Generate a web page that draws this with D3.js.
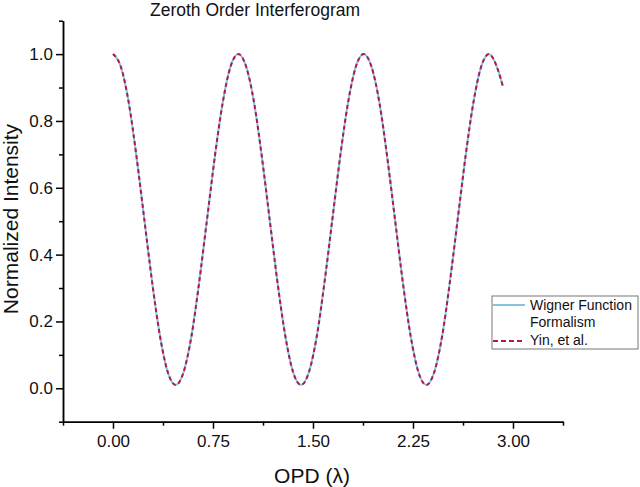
<!DOCTYPE html>
<html>
<head>
<meta charset="utf-8">
<script src="https://cdn.jsdelivr.net/npm/d3@7"></script>
<style>
  body { margin: 0; background: #fff; }
  text { font-family: "Liberation Sans", Arial, sans-serif; fill: #111; }
</style>
</head>
<body>
<svg id="chart" width="640" height="487"></svg>
<script>
// values
const opd = [0.000, 0.059, 0.118, 0.176, 0.235, 0.294, 0.353, 0.411, 0.470, 0.529,
             0.588, 0.646, 0.705, 0.764, 0.823, 0.881, 0.940, 0.999, 1.058, 1.116,
             1.175, 1.234, 1.293, 1.351, 1.410, 1.469, 1.528, 1.586, 1.645, 1.704,
             1.763, 1.821, 1.880, 1.939, 1.998, 2.056, 2.115, 2.174, 2.233, 2.291,
             2.350, 2.409, 2.468, 2.526, 2.585, 2.644, 2.703, 2.761, 2.820, 2.879, 2.923];
const wigner = [1.000, 0.962, 0.855, 0.694, 0.505, 0.316, 0.155, 0.048, 0.010, 0.048,
                0.155, 0.316, 0.505, 0.694, 0.855, 0.962, 1.000, 0.962, 0.855, 0.694,
                0.505, 0.316, 0.155, 0.048, 0.010, 0.048, 0.155, 0.316, 0.505, 0.694,
                0.855, 0.962, 1.000, 0.962, 0.855, 0.694, 0.505, 0.316, 0.155, 0.048,
                0.010, 0.048, 0.155, 0.316, 0.505, 0.694, 0.855, 0.962, 1.000, 0.962, 0.905];
const yin = wigner.slice(); // the two curves lie on top of each other

const xTicks = [0, 0.75, 1.5, 2.25, 3.0];
const yTicks = [0, 0.2, 0.4, 0.6, 0.8, 1.0];

const svg = d3.select("#chart");

const x = d3.scaleLinear().domain([-0.375, 3.375]).range([63, 563]);
const y = d3.scaleLinear().domain([-0.1, 1.1]).range([421.7, 20.7]);

// minor ticks
const xMinor = d3.range(-0.375, 3.376, 0.375).filter(v => !xTicks.some(t => Math.abs(t - v) < 1e-6));
const yMinor = d3.range(-0.1, 1.101, 0.2);

function styleAxis(g) {
    g.selectAll("path, line").attr("stroke", "#000").attr("stroke-width", 1.5);
    g.selectAll("text").style("font-size", "17px").attr("fill", "#111");
}

// x axis
svg.append("g")
    .attr("transform", `translate(0,${y(-0.1)})`)
    .call(d3.axisBottom(x).tickValues(xMinor).tickSize(4).tickFormat("").tickSizeOuter(0))
    .call(styleAxis);
svg.append("g")
    .attr("transform", `translate(0,${y(-0.1)})`)
    .call(d3.axisBottom(x).tickValues(xTicks).tickSize(7).tickPadding(6).tickFormat(d3.format(".2f")).tickSizeOuter(0))
    .call(styleAxis);

// y axis
svg.append("g")
    .attr("transform", `translate(${x(-0.375)},0)`)
    .call(d3.axisLeft(y).tickValues(yMinor).tickSize(4).tickFormat("").tickSizeOuter(0))
    .call(styleAxis);
svg.append("g")
    .attr("transform", `translate(${x(-0.375)},0)`)
    .call(d3.axisLeft(y).tickValues(yTicks).tickSize(7).tickPadding(3).tickFormat(d3.format(".1f")).tickSizeOuter(0))
    .call(styleAxis);

// lines
const line = d3.line()
    .x((d, i) => x(opd[i]))
    .y(d => y(d))
    .curve(d3.curveMonotoneX);

svg.append("path")
    .datum(wigner)
    .attr("fill", "none")
    .attr("stroke", "#86c3df")
    .attr("stroke-width", 2)
    .attr("d", line);

svg.append("path")
    .datum(yin)
    .attr("fill", "none")
    .attr("stroke", "#b3174b")
    .attr("stroke-width", 2)
    .attr("stroke-dasharray", "4,3")
    .attr("d", line);

// title and axis labels
svg.append("text")
    .attr("x", 255)
    .attr("y", 16)
    .attr("text-anchor", "middle")
    .style("font-size", "17.5px")
    .text("Zeroth Order Interferogram");

svg.append("text")
    .attr("x", 312)
    .attr("y", 483)
    .attr("text-anchor", "middle")
    .style("font-size", "21px")
    .text("OPD (λ)");

svg.append("text")
    .attr("transform", "rotate(-90)")
    .attr("x", -219)
    .attr("y", 18)
    .attr("text-anchor", "middle")
    .style("font-size", "21px")
    .text("Normalized Intensity");

// legend
const legend = svg.append("g");
legend.append("rect")
    .attr("x", 492).attr("y", 296)
    .attr("width", 146).attr("height", 53)
    .attr("fill", "#fff")
    .attr("stroke", "#777")
    .attr("stroke-width", 1);
legend.append("line")
    .attr("x1", 493).attr("x2", 525).attr("y1", 305).attr("y2", 305)
    .attr("stroke", "#86c3df").attr("stroke-width", 2);
legend.append("line")
    .attr("x1", 493).attr("x2", 525).attr("y1", 341).attr("y2", 341)
    .attr("stroke", "#b3174b").attr("stroke-width", 2).attr("stroke-dasharray", "5,3");
legend.append("text").attr("x", 530).attr("y", 310).style("font-size", "14px").text("Wigner Function");
legend.append("text").attr("x", 530).attr("y", 327).style("font-size", "14px").text("Formalism");
legend.append("text").attr("x", 530).attr("y", 345).style("font-size", "14px").text("Yin, et al.");
</script>
</body>
</html>
